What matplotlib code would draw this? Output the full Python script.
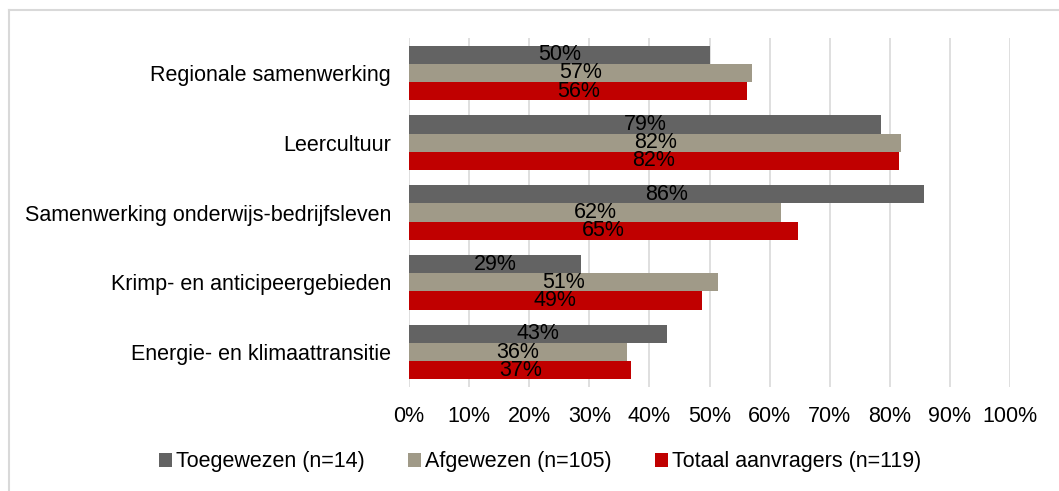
import matplotlib
matplotlib.use("Agg")
import matplotlib.pyplot as plt
from matplotlib.lines import Line2D
from matplotlib.patches import Patch
import numpy as np

categories = ["Regionale samenwerking", "Leercultuur", "Samenwerking onderwijs-bedrijfsleven",
              "Krimp- en anticipeergebieden", "Energie- en klimaattransitie"]
toegewezen = [50.0, 78.6, 85.7, 28.6, 42.9]
afgewezen = [57.1, 81.9, 61.9, 51.4, 36.2]
totaal = [56.3, 81.5, 64.7, 48.7, 37.0]
series_names = ["Toegewezen (n=14)", "Afgewezen (n=105)", "Totaal aanvragers (n=119)"]
colors = ["#636363", "#a09a88", "#c00000"]
xticks = list(range(0, 101, 10))

plt.rcParams['font.family'] = ['Liberation Sans', 'DejaVu Sans']
FS = 15.5

W, H = 1059, 491
fig = plt.figure(figsize=(W / 100, H / 100), dpi=100)
ax = fig.add_axes([409 / W, 1 - 387 / H, (1010 - 409) / W, (387 - 38) / H])

# chart area border (left and top edges visible)
fig.lines.append(Line2D([8.5 / W, 8.5 / W], [0, 1 - 9.5 / H], transform=fig.transFigure,
                        color="#d9d9d9", linewidth=1.5))
fig.lines.append(Line2D([8.5 / W, 1], [1 - 9.5 / H, 1 - 9.5 / H], transform=fig.transFigure,
                        color="#d9d9d9", linewidth=1.5))

n = len(categories)
y = np.arange(n)
bh = 0.26
data = [toegewezen, afgewezen, totaal]
for i, (vals, c, name) in enumerate(zip(data, colors, series_names)):
    pos = y + (i - 1) * bh
    bars = ax.barh(pos, vals, height=bh, color=c, label=name, zorder=3)
    for b, v in zip(bars, vals):
        ax.text(v / 2, b.get_y() + b.get_height() / 2, f"{round(v)}%", ha="center", va="center",
                fontsize=FS, color="black", zorder=4)

ax.set_ylim(n - 0.5, -0.5)
ax.set_xlim(0, 100)
ax.set_yticks(y)
ax.set_yticklabels(categories, fontsize=FS)
ax.set_xticks(xticks)
ax.set_xticklabels([f"{t}%" for t in xticks], fontsize=FS)
ax.tick_params(axis="both", length=0)
ax.tick_params(axis="y", pad=13)
ax.tick_params(axis="x", pad=14)
ax.grid(axis="x", color="#d9d9d9", linewidth=1.2, zorder=0)
for s in ax.spines.values():
    s.set_visible(False)

handles = [Patch(facecolor=c) for c in colors]
fig.legend(handles, series_names, loc="center", bbox_to_anchor=(540 / W, 1 - 462 / H), ncol=3,
           frameon=False, fontsize=FS, handlelength=0.6, handleheight=0.6, handletextpad=0.2,
           columnspacing=2.0)

fig.savefig("out.png", dpi=100)
